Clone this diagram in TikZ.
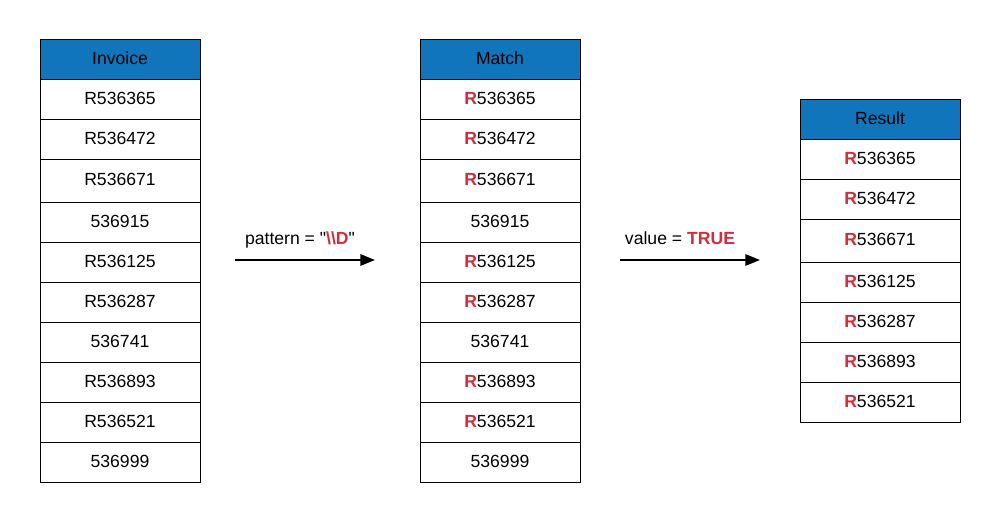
\documentclass[tikz,border=0pt]{standalone}
\usepackage{fontspec}
\setmainfont{Liberation Sans}
\usetikzlibrary{arrows.meta}

\definecolor{hdrblue}{RGB}{16,117,186}
\definecolor{hitred}{RGB}{210,45,58}
\newcommand{\hit}{{\color{hitred}\textbf{R}}}

\begin{document}
\begin{tikzpicture}[x=0.75pt,y=-0.75pt,
    cell/.style={draw, line width=0.75pt, minimum width=120pt, minimum height=30pt,
      inner sep=0pt, text height=9.3pt, text depth=3pt, font=\fontsize{13.2}{15}\selectfont},
    tall/.style={cell, minimum height=32.25pt},
    head/.style={cell, fill=hdrblue},
    flow/.style={line width=1.5pt, -{Triangle[length=11pt,width=8.5pt]}},
    lbl/.style={anchor=base, font=\fontsize{13.2}{15}\selectfont}]

  \useasboundingbox (0,0) rectangle (1000,523);

  % invoice column
  \node[head] (inv0)  at (120,60)    {Invoice};
  \node[cell] (inv1)  at (120,100)   {R536365};
  \node[cell] (inv2)  at (120,140)   {R536472};
  \node[tall] (inv3)  at (120,181.5) {R536671};
  \node[cell] (inv4)  at (120,223)   {536915};
  \node[cell] (inv5)  at (120,263)   {R536125};
  \node[cell] (inv6)  at (120,303)   {R536287};
  \node[cell] (inv7)  at (120,343)   {536741};
  \node[cell] (inv8)  at (120,383)   {R536893};
  \node[cell] (inv9)  at (120,423)   {R536521};
  \node[cell] (inv10) at (120,463)   {536999};

  % match column
  \node[head] (mat0)  at (500,60)    {Match};
  \node[cell] (mat1)  at (500,100)   {\hit536365};
  \node[cell] (mat2)  at (500,140)   {\hit536472};
  \node[tall] (mat3)  at (500,181.5) {\hit536671};
  \node[cell] (mat4)  at (500,223)   {536915};
  \node[cell] (mat5)  at (500,263)   {\hit536125};
  \node[cell] (mat6)  at (500,303)   {\hit536287};
  \node[cell] (mat7)  at (500,343)   {536741};
  \node[cell] (mat8)  at (500,383)   {\hit536893};
  \node[cell] (mat9)  at (500,423)   {\hit536521};
  \node[cell] (mat10) at (500,463)   {536999};

  % result column
  \node[head] (res0) at (880,120)   {Result};
  \node[cell] (res1) at (880,160)   {\hit536365};
  \node[cell] (res2) at (880,200)   {\hit536472};
  \node[tall] (res3) at (880,241.5) {\hit536671};
  \node[cell] (res4) at (880,283)   {\hit536125};
  \node[cell] (res5) at (880,323)   {\hit536287};
  \node[cell] (res6) at (880,363)   {\hit536893};
  \node[cell] (res7) at (880,403)   {\hit536521};

  % arrows
  \coordinate (patA) at (235,260);
  \coordinate (patB) at (375,260);
  \coordinate (valA) at (620,260);
  \coordinate (valB) at (760,260);
  \draw[flow] (patA) -- (patB);
  \draw[flow] (valA) -- (valB);
  \node[lbl] (patlbl) at (300,245) {pattern = \textquotedbl{\color{hitred}\textbf{\textbackslash\textbackslash D}}\textquotedbl};
  \node[lbl] (vallbl) at (680,245) {value = {\color{hitred}\textbf{TRUE}}};

\end{tikzpicture}
\end{document}
